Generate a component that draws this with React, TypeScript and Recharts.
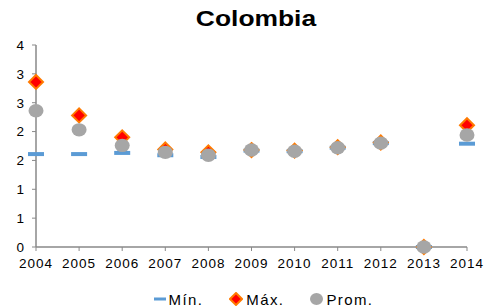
import { Legend, Line, LineChart, XAxis, YAxis } from "recharts";

const years = ["2004", "2005", "2006", "2007", "2008", "2009", "2010", "2011", "2012", "2013", "2014"];
const minValues = [1.61, 1.61, 1.63, 1.59, 1.56, 1.67, 1.66, 1.72, 1.8, 0, 1.79];
const maxValues = [2.86, 2.28, 1.9, 1.69, 1.64, 1.68, 1.67, 1.73, 1.81, 0, 2.11];
const promValues = [2.36, 2.03, 1.76, 1.64, 1.59, 1.68, 1.66, 1.72, 1.8, 0, 1.94];
const yTicks = [0, 0.5, 1, 1.5, 2, 2.5, 3, 3.5];

const data = years.map((year, i) => ({
  year,
  min: minValues[i],
  max: maxValues[i],
  prom: promValues[i],
}));

const AXIS = "#898989";
const BLUE = "#5B9BD5";
const RED = "#FF0000";
const ORANGE = "#FF7A00";
const GREY = "#A6A6A6";
const FONT = "'Liberation Sans', Arial, sans-serif";

function MinDot(props: any) {
  const { cx, cy } = props;
  if (cx == null || cy == null) return null;
  return <rect x={cx - 8} y={cy - 2} width={16} height={4} fill={BLUE} />;
}

function MaxDot(props: any) {
  const { cx, cy } = props;
  if (cx == null || cy == null) return null;
  const r = 7;
  return (
    <polygon
      points={`${cx},${cy - r} ${cx + r},${cy} ${cx},${cy + r} ${cx - r},${cy}`}
      fill={RED}
      stroke={ORANGE}
      strokeWidth={2}
    />
  );
}

function PromDot(props: any) {
  const { cx, cy } = props;
  if (cx == null || cy == null) return null;
  return <ellipse cx={cx} cy={cy} rx={7.5} ry={6.7} fill={GREY} />;
}

function LegendContent() {
  const item = { display: "flex", alignItems: "center", gap: 3 } as const;
  return (
    <div
      style={{
        display: "flex",
        justifyContent: "center",
        gap: 26,
        fontFamily: FONT,
        fontSize: 15,
        letterSpacing: 1.4,
        color: "#000",
        height: 20,
        alignItems: "center",
        paddingLeft: 60,
        marginTop: 2,
      }}
    >
      <div style={item}>
        <svg width={12} height={10}>
          <rect x={0} y={3.5} width={12} height={3} fill={BLUE} />
        </svg>
        <span>Mín.</span>
      </div>
      <div style={item}>
        <svg width={14} height={14}>
          <polygon points="7,1 13,7 7,13 1,7" fill={RED} stroke={ORANGE} strokeWidth={2} />
        </svg>
        <span>Máx.</span>
      </div>
      <div style={item}>
        <svg width={13} height={12}>
          <ellipse cx={6.5} cy={6} rx={6.5} ry={6} fill={GREY} />
        </svg>
        <span>Prom.</span>
      </div>
    </div>
  );
}

const tickStyle = { fill: "#000", fontSize: 13.5, fontFamily: FONT, letterSpacing: 1 };

export default function App() {
  return (
    <div style={{ position: "relative", width: 484, height: 307, background: "#fff" }}>
      <style>{`body{margin:0}`}</style>
      <div
        style={{
          position: "absolute",
          top: 6,
          left: 0,
          width: 512,
          textAlign: "center",
          fontFamily: FONT,
          fontWeight: "bold",
          fontSize: 22,
          transform: "scaleX(1.2)",
          transformOrigin: "256px 0",
        }}
      >
        Colombia
      </div>
      <LineChart width={484} height={307} data={data} margin={{ top: 45, right: 17, left: 0, bottom: 0 }}>
        <XAxis
          dataKey="year"
          height={40}
          tick={tickStyle}
          tickLine={{ stroke: AXIS }}
          axisLine={{ stroke: AXIS, strokeWidth: 1.5 }}
          tickSize={4}
          tickMargin={7}
          interval={0}
        />
        <YAxis
          width={36}
          domain={[0, 3.5]}
          ticks={yTicks}
          tickFormatter={(v: number) => String(Math.round(v))}
          tick={tickStyle}
          tickLine={{ stroke: AXIS }}
          axisLine={{ stroke: AXIS, strokeWidth: 1.5 }}
          tickSize={4}
          tickMargin={7}
        />
        <Legend verticalAlign="bottom" height={20} content={<LegendContent />} />
        <Line dataKey="min" name="Mín." stroke="none" dot={<MinDot />} activeDot={false} isAnimationActive={false} />
        <Line dataKey="max" name="Máx." stroke="none" dot={<MaxDot />} activeDot={false} isAnimationActive={false} />
        <Line dataKey="prom" name="Prom." stroke="none" dot={<PromDot />} activeDot={false} isAnimationActive={false} />
      </LineChart>
    </div>
  );
}
